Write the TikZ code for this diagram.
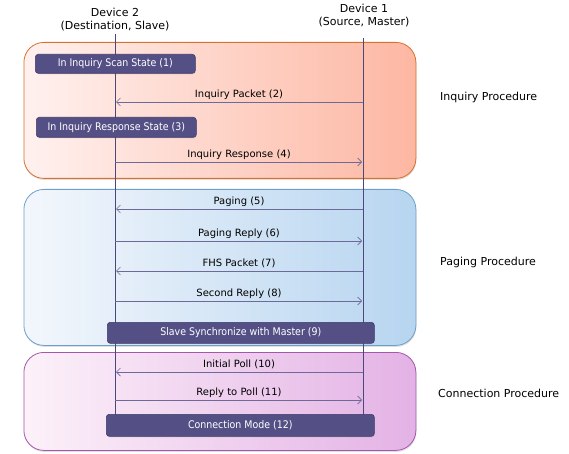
\documentclass[tikz,border=0pt]{standalone}
\usepackage{fontspec}
\setmainfont{DejaVu Sans}
\newfontfamily\condfont{DejaVu Sans Condensed}
\usetikzlibrary{arrows.meta,shadows}

\definecolor{inqdraw}{HTML}{D8702E}
\definecolor{inqleft}{HTML}{FFF1EF}
\definecolor{inqright}{HTML}{FDB7A2}
\definecolor{pagdraw}{HTML}{6F9FC9}
\definecolor{pagleft}{HTML}{F3F7FC}
\definecolor{pagright}{HTML}{B7D5F0}
\definecolor{condraw}{HTML}{A457AC}
\definecolor{conleft}{HTML}{FCF1F9}
\definecolor{conright}{HTML}{E3B2E5}
\definecolor{statefill}{HTML}{545086}
\definecolor{statedraw}{HTML}{3E3B6A}
\definecolor{lifecol}{HTML}{4B4879}
\definecolor{msgcol}{HTML}{6D6998}

\begin{document}
\begin{tikzpicture}[x=1pt,y=-1pt,
  procbox/.style={rounded corners=20pt, line width=0.8pt, anchor=north west, inner sep=0pt,
    minimum width=392pt, drop shadow={shadow xshift=0.5pt,shadow yshift=-1.5pt,opacity=0.25}},
  statebox/.style={rounded corners=3pt, fill=statefill, draw=statedraw, line width=0.6pt,
    text=white, font=\condfont\fontsize{10.5}{12}\selectfont, inner sep=0pt, anchor=north west,
    drop shadow={shadow xshift=0.5pt,shadow yshift=-1pt,opacity=0.2}},
  devlabel/.style={align=center, font=\fontsize{11}{13}\selectfont, inner sep=1pt},
  proclabel/.style={anchor=west, font=\fontsize{11}{13}\selectfont, inner sep=0pt},
  lifeline/.style={draw=lifecol, line width=0.7pt},
  msg/.style={draw=msgcol, line width=0.7pt, -{Straight Barb[length=4pt,width=8pt]}, shorten >=1pt}
]
\useasboundingbox (0,0) rectangle (569,454);

\node[procbox, draw=inqdraw, left color=inqleft, right color=inqright, minimum height=136pt] (inq) at (23.5,42) {};
\node[procbox, draw=pagdraw, left color=pagleft, right color=pagright, minimum height=156pt] (pag) at (23.5,189) {};
\node[procbox, draw=condraw, left color=conleft, right color=conright, minimum height=98pt] (con) at (23.5,352) {};

\node[proclabel] (inqlabel) at (440,97) {Inquiry Procedure};
\node[proclabel] (paglabel) at (440,262) {Paging Procedure};
\node[proclabel] (conlabel) at (438,393) {Connection Procedure};

\node[devlabel] (dev2) at (115,20) {Device 2\\(Destination, Slave)};
\node[devlabel] (dev1) at (364,16) {Device 1\\(Source, Master)};
\coordinate (d2) at (115,34);
\coordinate (d1) at (363,38);
\coordinate (d2end) at (115,420);
\coordinate (d1end) at (363,420);
\draw[lifeline] (d2) -- (d2end);
\draw[lifeline] (d1) -- (d1end);

\node[statebox, minimum width=160pt, minimum height=19pt] (scan) at (35,54) {In Inquiry Scan State (1)};
\node[statebox, minimum width=160pt, minimum height=20pt] (resp) at (36,117) {In Inquiry Response State (3)};
\node[statebox, minimum width=267pt, minimum height=21pt] (sync) at (107,322) {Slave Synchronize with Master (9)};
\node[statebox, minimum width=268pt, minimum height=22pt] (mode) at (106,414) {Connection Mode (12)};

\foreach \y/\from/\to/\txt in {102/d1/d2/Inquiry Packet (2), 162/d2/d1/Inquiry Response (4),
    209/d1/d2/Paging (5), 241/d2/d1/Paging Reply (6), 271/d1/d2/FHS Packet (7),
    301/d2/d1/Second Reply (8), 372/d1/d2/Initial Poll (10), 400/d2/d1/Reply to Poll (11)}
  \draw[msg] (\from |- 0,\y) -- (\to |- 0,\y)
    node[midway, above=1pt, inner sep=1.5pt, font=\fontsize{10}{12}\selectfont] {\txt};
\end{tikzpicture}
\end{document}
